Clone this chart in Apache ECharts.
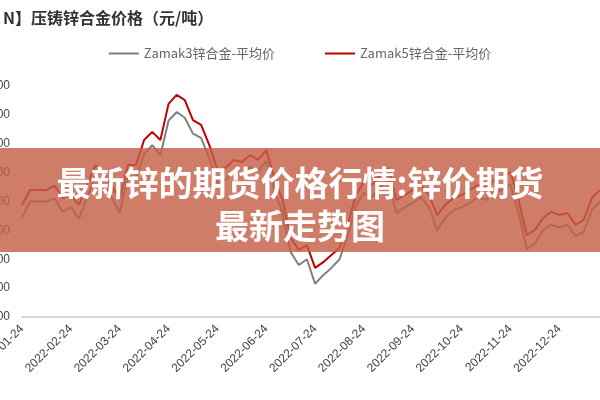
<!DOCTYPE html>
<html><head><meta charset="utf-8">
<script src="https://cdn.jsdelivr.net/npm/echarts@6/dist/echarts.min.js"></script>
<style>html,body{margin:0;padding:0;background:#fff}#c{width:600px;height:400px}</style>
</head><body><div id="c"></div>
<script>
const dates = [
"2022-01-24","2022-01-29","2022-02-03","2022-02-08","2022-02-13","2022-02-18",
"2022-02-24","2022-03-01","2022-03-06","2022-03-11","2022-03-16","2022-03-20",
"2022-03-24","2022-03-29","2022-04-03","2022-04-08","2022-04-13","2022-04-18",
"2022-04-24","2022-04-29","2022-05-04","2022-05-09","2022-05-14","2022-05-19",
"2022-05-24","2022-05-29","2022-06-03","2022-06-08","2022-06-13","2022-06-18",
"2022-06-24","2022-06-29","2022-07-04","2022-07-09","2022-07-14","2022-07-19",
"2022-07-24","2022-07-29","2022-08-03","2022-08-08","2022-08-13","2022-08-18",
"2022-08-24","2022-08-29","2022-09-03","2022-09-08","2022-09-13","2022-09-18",
"2022-09-24","2022-09-29","2022-10-04","2022-10-09","2022-10-14","2022-10-19",
"2022-10-24","2022-10-29","2022-11-03","2022-11-08","2022-11-13","2022-11-18",
"2022-11-24","2022-11-29","2022-12-04","2022-12-09","2022-12-14","2022-12-19",
"2022-12-24","2022-12-29","2023-01-03","2023-01-08","2023-01-13","2023-01-18"];
const tickDates = ["2022-01-24","2022-02-24","2022-03-24","2022-04-24","2022-05-24","2022-06-24","2022-07-24","2022-08-24","2022-09-24","2022-10-24","2022-11-24","2022-12-24"];
const zamak5 = [25880,26400,26400,26400,26540,26120,26220,25880,26570,27260,26920,26570,
26050,27260,27260,28130,28410,28130,29380,29690,29510,28820,28650,27960,
27090,27160,27440,27370,27610,27440,27780,26810,26050,24740,24320,24490,
23700,23900,24150,24390,25190,26220,26680,26570,26920,27160,26050,26220,
26400,26570,26220,25530,25880,26120,26220,26400,26570,26470,26740,26810,
27020,26050,24840,25010,25430,25640,25530,25600,25190,25360,26120,26400];
const zamak3 = [25450,26000,26000,26000,26100,25650,25800,25400,26150,26850,26500,26150,
25600,26850,26800,27650,27950,27600,28800,29100,28900,28350,28200,27500,
26650,26750,27000,26950,27200,27050,27400,26400,25600,24250,23800,24000,
23150,23450,23700,24000,24800,25850,26300,26150,26500,26750,25600,25800,
25950,26150,25800,25000,25450,25700,25800,25950,26150,26050,26350,26400,
26600,25600,24350,24550,25000,25200,25100,25200,24800,24950,25700,26000];
const yTicks = [22000,30000,1000];

const chart = echarts.init(document.getElementById('c'));
chart.setOption({
  animation:false,
  title:{text:'N】压铸锌合金价格（元/吨）',left:-2,top:5,textStyle:{fontSize:16,fontWeight:'bold',color:'#333',fontFamily:'Noto Sans CJK SC'}},
  legend:{top:42,left:'center',itemGap:50,itemWidth:30,itemHeight:2,icon:'rect',
    textStyle:{fontSize:13,color:'#666',fontFamily:'Noto Sans CJK SC'}},
  grid:{left:22,right:0,top:86,bottom:83,containLabel:false,outerBoundsMode:'none'},
  xAxis:{type:'category',data:dates,boundaryGap:false,
    axisLine:{lineStyle:{color:'#d9d9d9',width:2}},axisTick:{show:false},
    axisLabel:{rotate:45,fontSize:12,color:'#444',margin:10,
      interval:(i,v)=>tickDates.includes(v)}},
  yAxis:{type:'value',min:yTicks[0],max:yTicks[1],interval:yTicks[2],
    splitLine:{show:false},axisLine:{show:false},axisTick:{show:false},
    axisLabel:{fontSize:12,color:'#444',margin:12,formatter:v=>String(v)}},
  series:[
    {name:'Zamak3锌合金-平均价',type:'line',data:zamak3,showSymbol:false,lineStyle:{color:'#7f7f7f',width:2},itemStyle:{color:'#7f7f7f'}},
    {name:'Zamak5锌合金-平均价',type:'line',data:zamak5,showSymbol:false,lineStyle:{color:'#c00000',width:2},itemStyle:{color:'#c00000'}}
  ],
  graphic:[
    {type:'rect',shape:{x:0,y:148,width:600,height:104},style:{fill:'rgba(196,96,72,0.82)'},z:100},
    {type:'text',x:300,y:183,style:{text:'最新锌的期货价格行情:锌价期货',fill:'#fff',font:'bold 34px "Noto Sans CJK SC"',align:'center',verticalAlign:'middle'},z:101},
    {type:'text',x:300,y:226,style:{text:'最新走势图',fill:'#fff',font:'bold 34px "Noto Sans CJK SC"',align:'center',verticalAlign:'middle'},z:101}
  ]
});
</script></body></html>
